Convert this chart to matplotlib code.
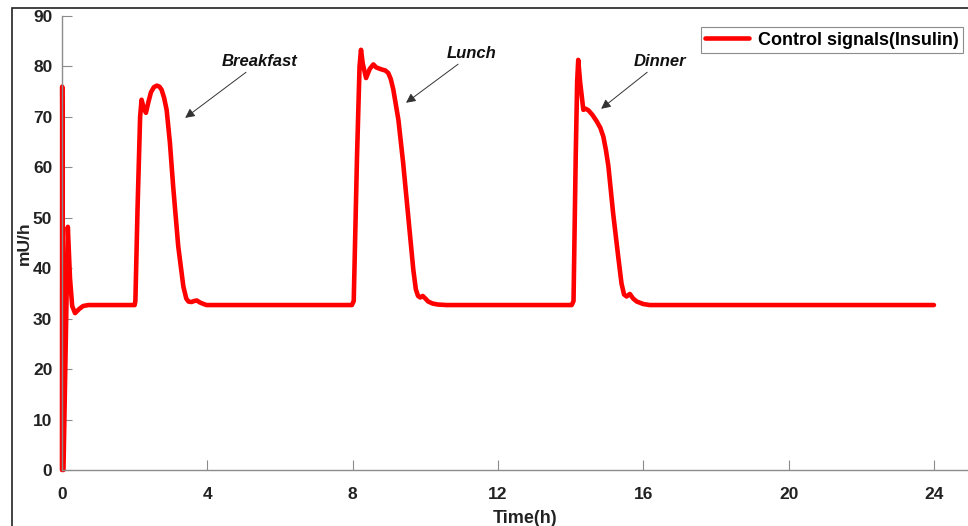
import matplotlib
matplotlib.use('Agg')
import matplotlib.pyplot as plt
from matplotlib.patches import Rectangle

plt.rcParams['font.family'] = ['Liberation Sans', 'DejaVu Sans']

# time (h) and insulin control signal (mU/h)
t_start = [0, 0.005, 0.04, 0.16, 0.22, 0.28, 0.36, 0.47, 0.58, 0.72]
u_start = [0, 76, 0, 48.2, 38.0, 32.5, 31.1, 31.9, 32.5, 32.7]

t_break = [2.0, 2.02, 2.08, 2.15, 2.19, 2.24, 2.31, 2.38, 2.45, 2.53, 2.61, 2.68,
           2.74, 2.81, 2.88, 2.97, 3.06, 3.20, 3.34, 3.42, 3.48, 3.56, 3.64, 3.71,
           3.80, 3.90, 3.98]
u_break = [32.7, 33.5, 52.0, 70.0, 73.4, 72.0, 70.8, 73.0, 74.9, 75.9, 76.2, 76.0,
           75.4, 73.8, 71.4, 64.9, 56.2, 44.3, 36.4, 34.0, 33.4, 33.3, 33.5, 33.6,
           33.2, 32.9, 32.7]

t_lunch = [7.98, 8.03, 8.12, 8.19, 8.23, 8.28, 8.37, 8.47, 8.57, 8.65, 8.80, 8.90,
           8.98, 9.05, 9.12, 9.26, 9.39, 9.53, 9.67, 9.74, 9.80, 9.86, 9.93, 10.0,
           10.08, 10.2, 10.35, 10.59]
u_lunch = [32.7, 33.5, 62.0, 80.0, 83.3, 80.5, 77.7, 79.5, 80.4, 79.8, 79.4, 79.2,
           78.7, 77.5, 75.4, 69.4, 60.9, 50.3, 39.7, 35.8, 34.5, 34.2, 34.5, 34.0,
           33.4, 33.0, 32.8, 32.7]

t_dinner = [14.03, 14.08, 14.14, 14.18, 14.21, 14.26, 14.35, 14.42, 14.49, 14.60,
            14.72, 14.82, 14.90, 14.97, 15.04, 15.17, 15.31, 15.40, 15.47, 15.54,
            15.63, 15.72, 15.82, 16.0, 16.18, 24.0]
u_dinner = [32.7, 33.5, 62.0, 77.0, 81.3, 77.0, 71.4, 71.6, 71.3, 70.4,
            69.1, 67.8, 66.1, 63.5, 60.2, 50.9, 42.3, 37.0, 34.8, 34.4,
            34.9, 34.0, 33.4, 32.9, 32.7, 32.7]

t = t_start + t_break + t_lunch + t_dinner
u = u_start + u_break + u_lunch + u_dinner

xticks = [0, 4, 8, 12, 16, 20, 24]
yticks = [0, 10, 20, 30, 40, 50, 60, 70, 80, 90]

fig = plt.figure(figsize=(9.68, 5.26), dpi=100)
ax = fig.add_axes([62/968, 1-470/526, (988-62)/968, (470-16)/526])

ax.plot(t, u, color='#ff0000', lw=3.3, label='Control signals(Insulin)',
        solid_joinstyle='round', solid_capstyle='round', clip_on=False)

ax.set_xlim(0, (988-62)/36.33)
ax.set_ylim(0, 90)
ax.set_xticks(xticks)
ax.set_yticks(yticks)
for s in ['top', 'right']:
    ax.spines[s].set_visible(False)
for s in ['left', 'bottom']:
    ax.spines[s].set_color('#8c8c8c')
    ax.spines[s].set_linewidth(1.0)
ax.tick_params(direction='in', length=7, width=0.8, color='#8c8c8c',
               labelsize=12.5, labelcolor='#222222')
ax.tick_params(axis='x', pad=12)
ax.tick_params(axis='y', pad=7)
for lab in ax.get_xticklabels() + ax.get_yticklabels():
    lab.set_fontweight('bold')

ax.set_xlabel('Time(h)', fontsize=13, fontweight='bold', color='#222222', labelpad=6)
ax.set_ylabel('mU/h', fontsize=12.5, fontweight='bold', color='#222222', labelpad=1)

arrow = dict(arrowstyle='-|>', color='#333333', lw=0.7, mutation_scale=14,
             shrinkA=0, shrinkB=0)
note_font = dict(fontsize=12, fontweight='bold', style='italic', color='#111111',
                 ha='left', va='bottom')
ax.annotate('Breakfast', xy=(3.39, 69.8), xytext=(4.4, 79.4),
            arrowprops=arrow, **note_font)
ax.annotate('Lunch', xy=(9.47, 72.8), xytext=(10.6, 81.0),
            arrowprops=arrow, **note_font)
ax.annotate('Dinner', xy=(14.84, 71.6), xytext=(15.74, 79.4),
            arrowprops=arrow, **note_font)

leg = ax.legend(loc='upper right', bbox_to_anchor=(963/968, 1-27/526),
                bbox_transform=fig.transFigure, fancybox=False, framealpha=1,
                edgecolor='#8c8c8c', prop={'weight': 'bold', 'size': 13},
                handlelength=2.4, borderpad=0.25, handletextpad=0.5,
                borderaxespad=0)
leg.get_frame().set_linewidth(0.8)

# outer frame of the original figure
fig.patches.append(Rectangle((12/968, -0.1), 1.2, 1.1 - 8/526,
                             transform=fig.transFigure, fill=False,
                             edgecolor='#222222', lw=1.2))

fig.savefig('out.png', dpi=100)
